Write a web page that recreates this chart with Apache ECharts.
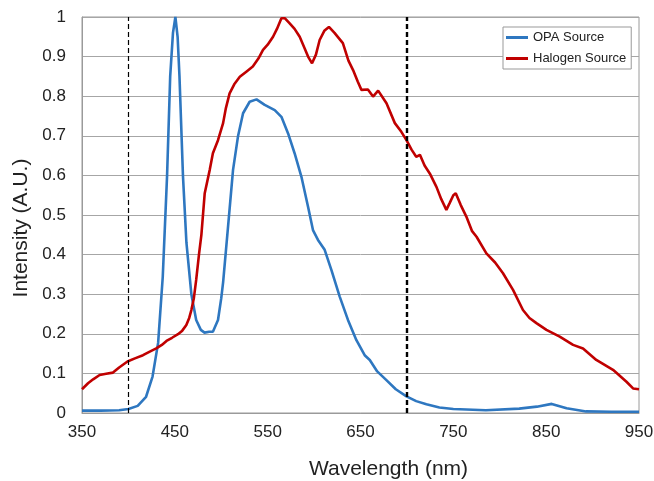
<!DOCTYPE html>
<html>
<head>
<meta charset="utf-8">
<script src="https://cdn.jsdelivr.net/npm/echarts@6/dist/echarts.min.js"></script>
<style>html,body{margin:0;padding:0;background:#fff;}#c{width:654px;height:481px;}</style>
</head>
<body>
<div id="c"></div>
<script>
// Data
var opaWl  = [350,370,390,400,410,419,426,432,437,441.6,445,448,450.6,453,455,458.8,462.5,467.8,473,478,482,487,491,496.5,500,502,507.3,512.7,518,523.5,530.6,538,546.8,557.6,564.8,572,579,586.3,593.5,598.8,604.2,611.4,618.7,627.6,636.5,645.6,654.5,660,668,677.9,688,699.5,710,721,735,750,785,821,840,856,872,893,920,950];
var opaVal = [0.006,0.006,0.007,0.01,0.018,0.041,0.092,0.177,0.344,0.597,0.85,0.96,1.0,0.95,0.85,0.597,0.43,0.30,0.235,0.21,0.203,0.205,0.205,0.235,0.29,0.33,0.47,0.614,0.698,0.757,0.786,0.792,0.778,0.765,0.748,0.706,0.656,0.597,0.521,0.462,0.437,0.412,0.361,0.294,0.235,0.184,0.146,0.134,0.105,0.083,0.06,0.042,0.03,0.022,0.014,0.01,0.007,0.011,0.016,0.023,0.012,0.004,0.003,0.003];
var halWl  = [350,352,356.5,362,369,376,383.4,390,399,407,415.7,423,430,436,441,447,453.4,458,462.4,465.5,467.8,470.5,473,476,478.6,482.2,487.6,491,496.5,502,505,509,514,520,527,534,540,545,550,555.8,560,564.8,568.4,573.7,579,584.5,590,593.5,597.8,602,606,611,616,622,631,637,642,647,651,658,663.5,669,678,687,694,699.5,705,710,714,719,724.6,731.8,737,742.5,746,750,752.6,758,764,770,775,785.6,795,803.5,814.3,825,832,839.5,850.3,864.6,879,889.7,904,922,936.5,943.6,950];
var halVal = [0.06,0.06,0.075,0.085,0.096,0.099,0.102,0.115,0.13,0.138,0.146,0.155,0.163,0.172,0.182,0.19,0.199,0.208,0.222,0.24,0.26,0.29,0.336,0.40,0.45,0.555,0.614,0.656,0.689,0.732,0.77,0.807,0.83,0.849,0.862,0.875,0.895,0.917,0.93,0.95,0.97,0.997,0.997,0.984,0.97,0.95,0.92,0.9,0.883,0.905,0.942,0.965,0.975,0.96,0.934,0.89,0.866,0.837,0.816,0.817,0.799,0.814,0.782,0.732,0.71,0.689,0.665,0.647,0.652,0.625,0.605,0.571,0.54,0.513,0.53,0.55,0.555,0.525,0.496,0.46,0.445,0.403,0.38,0.353,0.311,0.26,0.24,0.227,0.21,0.193,0.172,0.163,0.134,0.109,0.079,0.062,0.06];
var xTickLabels = ['350','450','550','650','750','850','950'];
var dashedLines = [400, 700];
var seriesNames = ['OPA Source', 'Halogen Source'];

function pairs(xs, ys){ return xs.map(function(x,i){ return [x, ys[i]]; }); }

var chart = echarts.init(document.getElementById('c'), null, {renderer:'canvas'});
var font = 'Liberation Sans, Arial, sans-serif';
chart.setOption({
  animation:false,
  backgroundColor:'#fff',
  grid:{left:82, right:15, top:17, bottom:68, containLabel:false, outerBoundsMode:'none',
        show:true, borderColor:'#9a9a9a', borderWidth:1, backgroundColor:'transparent'},
  legend:{
    orient:'vertical', left:503, top:27,
    data:seriesNames,
    icon:'rect', itemWidth:22, itemHeight:3, itemGap:8,
    borderColor:'#999', borderWidth:1, padding:[4,5,4,3],
    backgroundColor:'#fff',
    textStyle:{fontFamily:font, fontSize:13, color:'#222'}
  },
  xAxis:{
    type:'value', min:350, max:950, interval:50,
    name:'Wavelength (nm)', nameLocation:'middle', nameGap:46,
    nameTextStyle:{fontFamily:font, fontSize:21, color:'#222', padding:[0,0,0,56]},
    axisLine:{show:true, lineStyle:{color:'#9a9a9a', width:1}},
    axisTick:{show:false},
    splitLine:{show:false},
    axisLabel:{fontFamily:font, fontSize:17, color:'#222', margin:11,
      formatter:function(v){ var s=String(Math.round(v)); return xTickLabels.indexOf(s)>=0 ? s : ''; }}
  },
  yAxis:{
    type:'value', min:0, max:1, interval:0.1,
    name:'Intensity (A.U.)', nameLocation:'middle', nameGap:50,
    nameTextStyle:{fontFamily:font, fontSize:21, color:'#222', padding:[0,26,0,0]},
    axisLine:{show:true, lineStyle:{color:'#9a9a9a', width:1}},
    axisTick:{show:false},
    splitLine:{show:true, lineStyle:{color:'#a6a6a6', width:1}},
    axisLabel:{fontFamily:font, fontSize:17, color:'#222', margin:16,
      formatter:function(v){ return String(Math.round(v*10)/10); }}
  },
  series:[
    {name:seriesNames[0], type:'line', data:pairs(opaWl, opaVal), showSymbol:false, symbol:'none',
     lineStyle:{color:'#2e77c0', width:2.6}, itemStyle:{color:'#2e77c0'}, z:2},
    {name:seriesNames[1], type:'line', data:pairs(halWl, halVal), showSymbol:false, symbol:'none',
     lineStyle:{color:'#c00000', width:2.6}, itemStyle:{color:'#c00000'}, z:3,
     markLine:{silent:true, symbol:'none', label:{show:false}, animation:false,
       data:[
         {xAxis:dashedLines[0], lineStyle:{color:'#000', width:1.2, type:[5,3]}},
         {xAxis:dashedLines[1], lineStyle:{color:'#000', width:2.4, type:[5,3]}}
       ]}}
  ]
});
</script>
</body>
</html>
